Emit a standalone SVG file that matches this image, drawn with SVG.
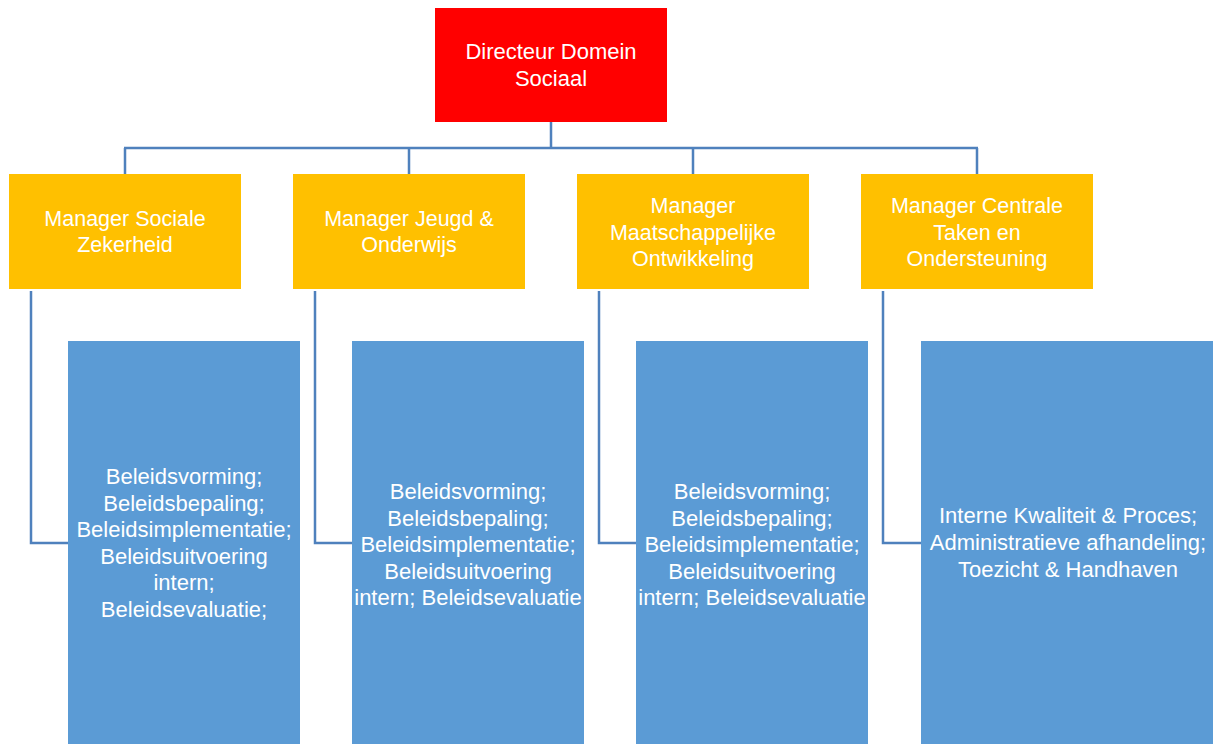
<svg xmlns="http://www.w3.org/2000/svg" width="1213" height="744" viewBox="0 0 1213 744">
<style>
.red{fill:#FF0000}
.org{fill:#FFC000}
.blu{fill:#5B9BD5}
text{font-family:"Liberation Sans",Arial,sans-serif;fill:#FFFFFF;text-anchor:middle;font-size:22px}
.o{font-size:21.5px}
.c{fill:none;stroke:#4F81BD;stroke-width:2.5}
</style>
<rect width="1213" height="744" fill="#FFFFFF"/>
<g id="connectors">
<path class="c" d="M551 122 V148 M124 148 H978 M125 148 V174 M409 148 V174 M693 148 V174 M977 148 V174"/>
<path class="c" d="M31 291 V543 H68 M315 291 V543 H352 M599 291 V543 H636 M883 291 V543 H921"/>
</g>
<g id="director">
<rect class="red" x="435" y="8" width="232" height="114"/>
<text x="551" y="59">Directeur Domein</text>
<text x="551" y="86">Sociaal</text>
</g>
<g id="mgr-sociale-zekerheid">
<rect class="org" x="9" y="174" width="232" height="115"/>
<text class="o" x="125" y="226">Manager Sociale</text>
<text class="o" x="125" y="252">Zekerheid</text>
</g>
<g id="mgr-jeugd-onderwijs">
<rect class="org" x="293" y="174" width="232" height="115"/>
<text class="o" x="409" y="226">Manager Jeugd &amp;</text>
<text class="o" x="409" y="252">Onderwijs</text>
</g>
<g id="mgr-maatschappelijke-ontwikkeling">
<rect class="org" x="577" y="174" width="232" height="115"/>
<text class="o" x="693" y="213">Manager</text>
<text class="o" x="693" y="239.5">Maatschappelijke</text>
<text class="o" x="693" y="266">Ontwikkeling</text>
</g>
<g id="mgr-centrale-taken">
<rect class="org" x="861" y="174" width="232" height="115"/>
<text class="o" x="977" y="213">Manager Centrale</text>
<text class="o" x="977" y="239.5">Taken en</text>
<text class="o" x="977" y="266">Ondersteuning</text>
</g>
<g id="taken-sociale-zekerheid">
<rect class="blu" x="68" y="341" width="232" height="410"/>
<text x="184" y="484">Beleidsvorming;</text>
<text x="184" y="510.5">Beleidsbepaling;</text>
<text x="184" y="537">Beleidsimplementatie;</text>
<text x="184" y="563.5">Beleidsuitvoering</text>
<text x="184" y="590">intern;</text>
<text x="184" y="617">Beleidsevaluatie;</text>
</g>
<g id="taken-jeugd-onderwijs">
<rect class="blu" x="352" y="341" width="232" height="410"/>
<text x="468" y="499">Beleidsvorming;</text>
<text x="468" y="525.5">Beleidsbepaling;</text>
<text x="468" y="552">Beleidsimplementatie;</text>
<text x="468" y="578.5">Beleidsuitvoering</text>
<text x="468" y="605">intern; Beleidsevaluatie</text>
</g>
<g id="taken-maatschappelijke-ontwikkeling">
<rect class="blu" x="636" y="341" width="232" height="410"/>
<text x="752" y="499">Beleidsvorming;</text>
<text x="752" y="525.5">Beleidsbepaling;</text>
<text x="752" y="552">Beleidsimplementatie;</text>
<text x="752" y="578.5">Beleidsuitvoering</text>
<text x="752" y="605">intern; Beleidsevaluatie</text>
</g>
<g id="taken-centrale-taken">
<rect class="blu" x="921" y="341" width="294" height="410"/>
<text x="1068" y="523">Interne Kwaliteit &amp; Proces;</text>
<text x="1068" y="550">Administratieve afhandeling;</text>
<text x="1068" y="577">Toezicht &amp; Handhaven</text>
</g>
</svg>
